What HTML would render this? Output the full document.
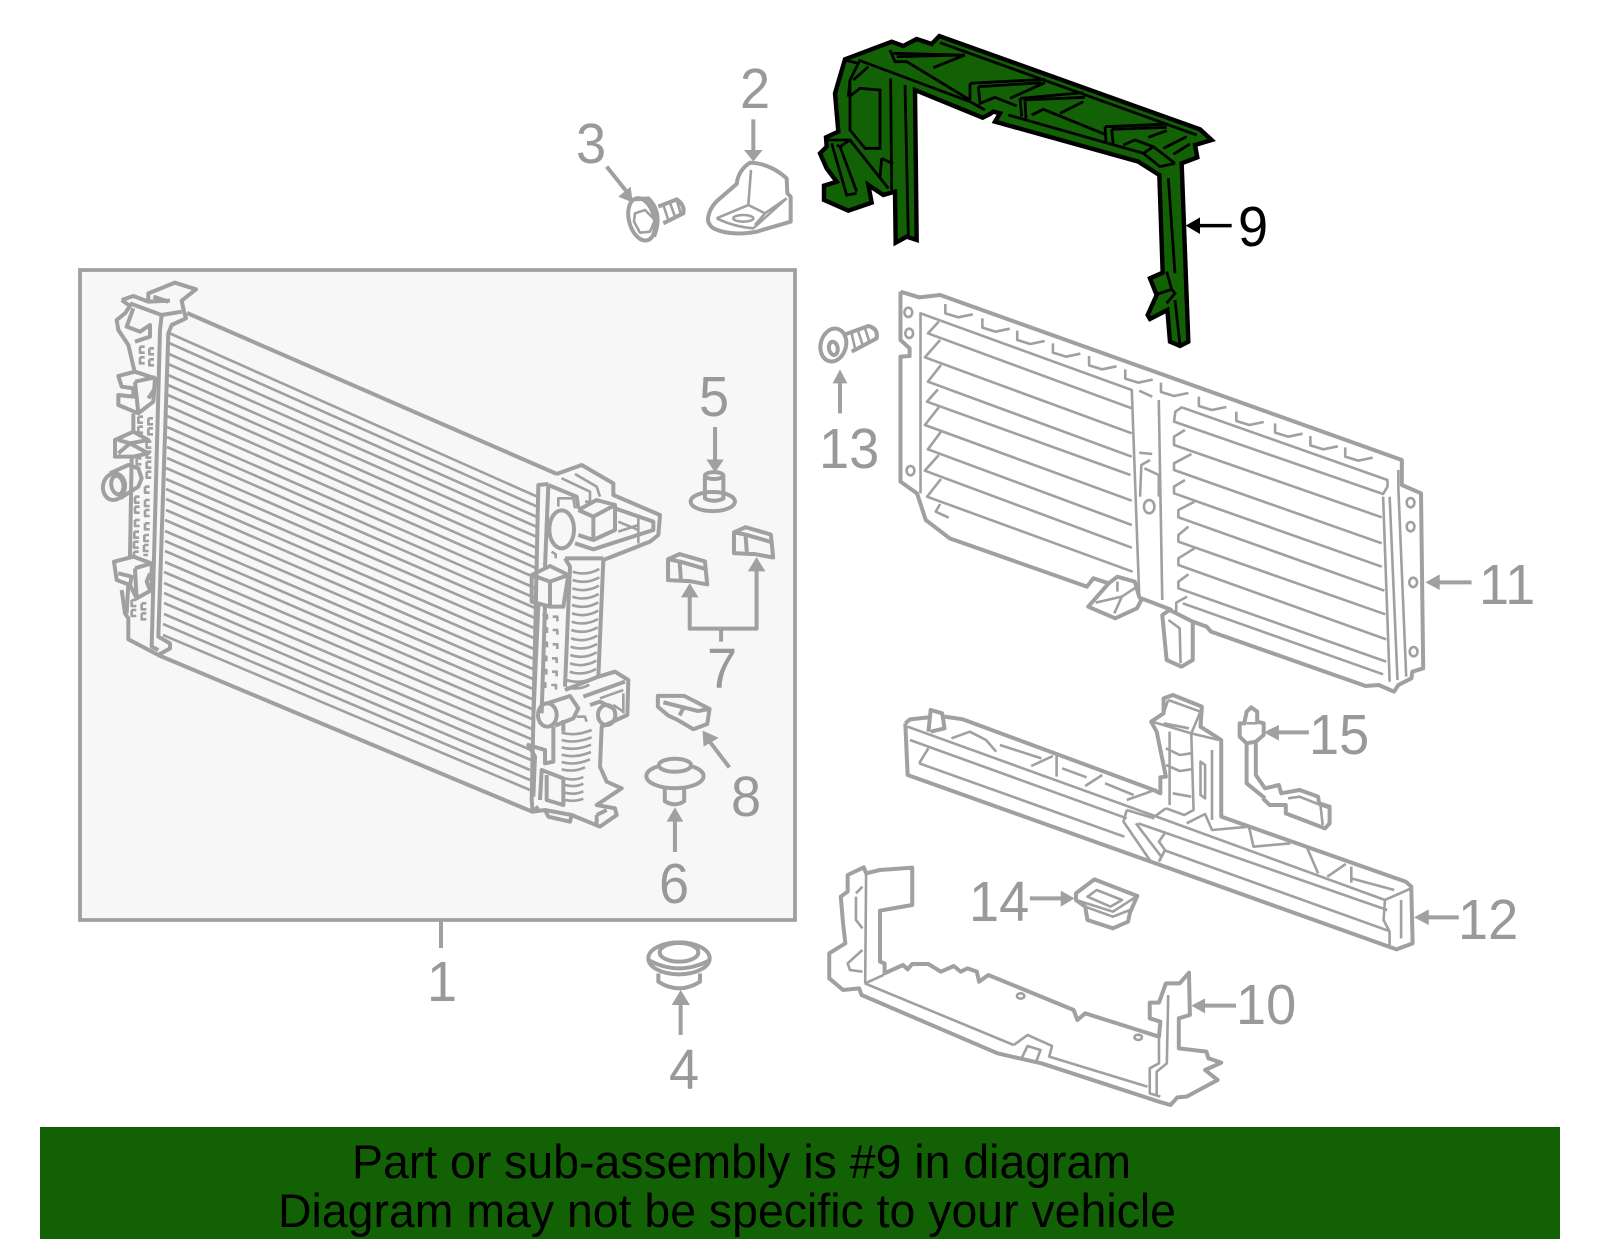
<!DOCTYPE html>
<html><head><meta charset="utf-8"><style>
html,body{margin:0;padding:0;background:#fff;width:1600px;height:1249px;overflow:hidden}
svg{display:block;position:absolute;left:0;top:0}
svg *{vector-effect:non-scaling-stroke}
.g{fill:none;stroke:#a0a0a0;stroke-width:2.6;stroke-linejoin:round}
.t{stroke-width:4}
.h{fill:#a0a0a0;stroke:none}
.n{font-family:"Liberation Sans",sans-serif;font-size:57px;fill:#999}
.k{fill:none;stroke:#000;stroke-width:2.8}
</style></head><body>
<svg width="1600" height="1249" viewBox="0 0 1600 1249" xmlns="http://www.w3.org/2000/svg">
<rect x="80" y="270" width="715" height="650" fill="#f7f7f7" stroke="#a0a0a0" stroke-width="3.8"/>
<path d="M441 920V948" class="g t"/>

<!-- radiator core -->
<g class="g">
<path d="M169 333L538 497M169 343L538 507M169 354L537 517M168 364L537 527M168 375L537 537M168 385L537 548M168 395L536 558M168 406L536 568M167 416L536 578M167 427L535 588M167 437L535 598M167 447L535 608M167 458L535 618M166 468L534 628M166 479L534 638M166 489L534 649M166 499L534 659M166 510L533 669M165 520L533 679M165 531L533 689M165 541L532 699M165 551L532 709M165 562L532 719M164 572L532 729M164 583L531 739M164 593L531 750M164 603L531 760M164 614L530 770M163 624L530 780M163 635L530 790"/>
<path class="t" d="M187 313L557 474M158 655L533 812"/>
</g>

<!-- radiator left tank -->
<g transform="translate(90,270) scale(.33333)">
<g class="g t">
<path d="M95 90L130 78L175 95L175 70L255 38L318 58L275 92L282 125L288 145L245 165L235 190L205 1100L240 1120V1135L205 1155L115 1108V1045L105 1030L95 960"/>
<path d="M215 135L210 180L185 1130L205 1140"/>
<path d="M95 90L120 108L105 130L80 150L85 180L115 225L135 310M130 115L110 170L150 185L180 165L180 200L135 215M175 95L240 92M120 100L215 135L275 125M190 80L235 95"/>
<path d="M85 318L135 305L195 325L190 395L145 430L85 405V375L130 380V355L95 350ZM135 335L195 322M135 335L145 430M175 385L195 355"/>
<path d="M130 430V485M75 510L130 485L175 510L120 520L175 550L130 560H75ZM85 510L120 520L85 550"/>
<path d="M60 610L115 585L145 595L155 625L145 650L90 685"/>
<ellipse cx="72" cy="650" rx="33" ry="40" transform="rotate(10 72 650)"/>
<ellipse cx="82" cy="645" rx="18" ry="28" transform="rotate(-10 82 645)"/>
<path d="M125 560L120 860M72 875L130 860L185 880V960L140 985L120 945L80 930ZM135 895L185 880M135 895L140 985M85 910L125 920L120 945M180 910L170 935L180 960M115 940L110 1030"/>
</g>
<path class="g" d="M150 230h14M150 230v18h14M178 235h14M178 235v18h14M150 262h14M150 262v18h14M178 268h14M178 268v18h14M145 440h14M145 440v18h14M175 445h14M175 445v18h14M145 470h14M145 470v18h14M175 475h14M175 475v18h14M170 515h14M170 515v18h14M170 545h14M170 545v18h14M140 565h14M140 565v18h14M170 575h14M170 575v18h14M170 605h14M170 605v18h14M165 650h14M165 650v18h14M135 680h14M135 680v18h14M165 690h14M165 690v18h14M135 710h14M135 710v18h14M165 720h14M165 720v18h14M135 750h14M135 750v18h14M165 760h14M165 760v18h14M133 785h14M133 785v18h14M163 795h14M163 795v18h14M132 815h14M132 815v18h14M162 825h14M162 825v18h14M132 845h14M132 845v14M160 855h14M125 990h14M125 990v18h14M155 1000h14M155 1000v18h14M125 1020h14M125 1020v18h14M155 1030h14M155 1030v18h14"/>
</g>

<!-- radiator right tank -->
<g transform="translate(510,460) scale(.33333)">
<g class="g t">
<path d="M140 42L215 15L310 70V105L450 165L445 225L420 245L280 300L265 650L315 635L355 660L352 765L275 800L270 920L290 965L335 985L260 1035L315 1045L320 1065L270 1100L185 1065L180 1085L115 1070L105 1050L68 1055"/>
<path d="M115 72L85 75L65 1020L68 1055L85 1040"/>
<path d="M115 75L105 320M115 75L200 110L205 145"/>
<ellipse cx="155" cy="208" rx="37" ry="57"/>
<path d="M205 150L250 170L315 135V210L250 240L205 225M250 170V240M205 150L260 120L315 135"/>
<path d="M195 250L250 268L430 210V185L315 145"/>
<path d="M165 295H280M165 295L180 320L165 680"/>
<path d="M65 345L120 318L175 345L160 440H120L65 425ZM120 365L175 345M65 345L120 365V440"/>
<path d="M85 435L70 770M105 440L95 760"/>
<path d="M165 690L265 650M220 710L345 665"/>
<ellipse cx="112" cy="765" rx="28" ry="35"/>
<path d="M112 730L180 708L205 745L190 775L135 797"/>
<ellipse cx="290" cy="765" rx="26" ry="30"/>
<path d="M240 735L270 725L310 745M130 800V905L105 910V870L55 855L75 890L70 1010"/>
<path d="M90 1020L95 930L160 955V1035L110 1020V945"/>
<path d="M105 1050L185 1065M260 1065V1095M260 1065L290 1050M160 780V815"/>
</g>
<g class="g">
<path d="M155 55L240 95V125H225M195 42L260 80L270 110M145 140V115H190L195 145M325 185L385 210M325 215L385 195M385 175V250M125 275L137 283V295M270 715L340 690M340 700V760M310 735L340 755M200 770H225L230 785"/>
<path d="M97 465h14v14M128 470h14v14M97 505h14v14M128 510h14v14M97 548h14v14M128 553h14v14M95 590h14v14M126 595h14v14M95 630h14v14M126 635h14v14M92 670h14v14M124 675h14v14"/>
<path d="M188 335q40 14 80 -8M188 360q40 14 80 -8M187 385q40 14 80 -8M187 410q40 14 79 -8M186 435q40 14 79 -8M186 460q40 14 79 -8M185 485q40 14 79 -8M184 510q40 14 79 -8M183 535q40 14 79 -8M182 560q40 14 79 -8M181 585q40 14 79 -8M180 610q40 14 79 -8M179 635q40 14 79 -8M170 660q40 14 85 -8M168 682q40 10 70 -8"/>
<path d="M155 818q40 12 90 -8M155 840q40 12 90 -8M155 862q40 12 88 -8M155 884q40 12 88 -8M155 906q40 12 85 -8M155 928q35 10 70 -6M165 955q30 8 55 -4M165 975q30 8 55 -4M165 998q30 8 55 -4M165 1020q30 6 55 -4"/>
</g>
</g>

<!-- small parts in box -->
<g transform="translate(80,260) scale(.4612,.4337)">
<g class="g t">
<ellipse cx="1372" cy="557" rx="48" ry="22"/>
<path d="M1355 500V550Q1375 560 1395 550V500"/>
<ellipse cx="1375" cy="497" rx="20" ry="8"/>
<path d="M1377 385V470" />
<path d="M1275 690L1300 678L1355 695L1360 748L1320 740L1310 740L1275 738ZM1300 695L1355 712M1300 695L1303 738M1275 690L1300 695"/>
<path transform="translate(143,-62)" d="M1275 690L1300 678L1355 695L1360 748L1320 740L1310 740L1275 738ZM1300 695L1355 712M1300 695L1303 738M1275 690L1300 695"/>
<path d="M1322 770V850H1467V710M1390 850V880"/>
<path d="M1253 1005L1310 1005L1365 1035L1360 1070L1330 1082L1295 1060L1275 1050L1253 1030ZM1265 1020L1340 1040L1365 1035M1300 1050L1310 1030"/>
<path d="M1408 1170L1365 1110"/>
<ellipse cx="1290" cy="1190" rx="62" ry="28"/>
<ellipse cx="1290" cy="1165" rx="35" ry="15" fill="#f7f7f7"/>
<path d="M1268 1215V1248Q1290 1262 1310 1248V1215"/>
<path d="M1290 1365V1290"/>
</g>
<path class="h" d="M1377 490L1358 460H1396ZM1322 745L1303 778H1341ZM1467 685L1448 718H1486ZM1350 1085L1352 1122L1385 1102ZM1290 1262L1272 1295H1308Z"/>
</g>

<!-- part 9 green -->
<g transform="translate(800,20) scale(.33333)">
<path fill="#126205" stroke="#000" stroke-width="4.4" stroke-linejoin="miter" d="M135 118L275 65L310 78L350 57L395 72L418 48L1200 328L1235 360L1185 375L1192 412L1145 430L1165 965L1140 978L1110 965L1102 870L1050 897L1043 885L1070 825L1050 775L1088 758L1078 465L1015 425L585 305L600 280L580 275L570 282L548 293L345 210L350 660L320 650L287 668L285 515L250 525L205 495L215 548L145 572L72 540V497L110 485L80 445L60 400L80 380L78 352L115 335L105 220Z"/>
<g class="k">
<path d="M175 120L510 245L555 270M272 175L275 510M315 195L325 650M270 90L285 125L320 125L510 240M280 100L480 105M290 110L495 105M400 143L495 105"/>
<path d="M510 190L735 178M535 200L725 188M510 190V240M535 200L540 250L585 232L650 258M630 235L735 188M660 235L850 218M670 240L855 232M660 235L665 290M675 245L678 295M695 285L730 268L920 345M780 280L850 245M915 320L1105 312M935 328L1100 322M915 320L918 365M935 328L940 375M970 375L1005 360L1060 380M1045 352L1100 332M1090 385L1160 350M1120 403L1170 372M420 68L1190 345"/>
<path d="M625 285L1030 400L1080 440L1125 430M1030 400L1060 380L1125 430M1105 475L1125 760M1125 840L1140 975M1065 825L1115 808L1100 755M1115 808L1125 820L1100 850"/>
<path d="M150 190V330L195 385H240V210L180 205L148 230M135 120L175 130L150 180L145 230M205 140L160 180"/>
<path d="M85 360H150L265 505M95 370L140 525L170 520M120 380L150 360M110 375L120 380L170 515M245 415L240 470M245 415L280 432"/>
</g>
<path d="M1295 617H1190" stroke="#000" stroke-width="3.5" fill="none"/>
<path d="M1157 617L1200 592V642Z" fill="#000"/>
</g>

<!-- part 11 grille -->
<g transform="translate(880,280) scale(.4356,.33333)">
<g class="g t">
<path d="M47 35L90 52L138 45L1198 540V615L1242 640L1247 1165L1222 1175L1220 1195L1190 1215L1180 1235L1145 1215L1115 1218L760 1055L750 1040L718 1025"/>
<path d="M47 35V180L68 205V228L47 230V605L85 640L105 720L160 775L475 920L490 895L525 910L545 890L585 905L595 950L600 960L590 985L540 1015L478 980L525 910M600 955L670 990"/>
<path d="M648 1005L665 990L718 1025V1140L692 1160L658 1140Z"/>
<path d="M1358 907H1280"/>
</g>
<g class="g">
<path d="M93 640V100L578 330L595 945M640 360L648 960M595 332L625 350M595 518L625 522M620 540L600 555L597 650M607 565L640 585V650"/>
<path d="M135 125L110 160L578 385M138 180L103 232L578 460M140 255L110 305L578 530M133 328L108 365L575 585M135 382L103 435L578 662M140 455L110 508L578 735M135 525L103 572L578 803M140 597L108 650L580 875M138 672L128 695L158 713"/>
<path d="M695 380L678 395L675 425L1155 642L1165 620V600L695 383M700 450L675 470V495L1152 712M715 522L675 550V570L1152 790M700 600L675 620V640L1152 860M722 665L685 690V712L1158 932M708 740L685 765V785L1160 1003M722 805L685 835V855L1162 1078M708 883L685 905V925L1162 1145M705 950L680 968V995M695 970L1155 1183"/>
<path d="M150 72v28l30 12l33 -9M235 115v28l30 12l33 -9M315 152v28l30 12l33 -9M397 190v28l30 12l33 -9M480 228v28l30 12l33 -9M563 268v28l30 12l33 -9M645 308v28l30 12l33 -9M732 350v28l30 12l33 -9M818 395v28l30 12l33 -9M907 430v28l30 12l33 -9M988 468v28l30 12l33 -9M1068 502v28l30 12l33 -9"/>
<path d="M1190 570V625L1208 1190M1170 650L1188 1200M1155 650L1170 1205M662 1020L688 1045L690 1150M545 905V935M495 968L555 950L538 1000M590 920L555 950"/>
<ellipse cx="618" cy="680" rx="12" ry="20"/>
<ellipse cx="65" cy="97" rx="9" ry="14"/><ellipse cx="67" cy="160" rx="9" ry="14"/><ellipse cx="70" cy="572" rx="9" ry="14"/><ellipse cx="1218" cy="668" rx="9" ry="14"/><ellipse cx="1218" cy="740" rx="9" ry="14"/><ellipse cx="1224" cy="907" rx="9" ry="14"/><ellipse cx="1225" cy="1115" rx="9" ry="14"/>
</g>
<path class="h" d="M1252 907L1285 883V930Z"/>
</g>

<!-- parts 10 12 14 15 -->
<g transform="translate(820,690) scale(.4612,.33333)">
<g class="g t">
<path d="M185 100L190 255L1250 778L1285 760L1282 590L1270 575L870 380V150L825 110L828 50L765 15L745 25V70L718 95L730 125L750 260L738 262V310L720 298L310 88L270 80M185 100L195 88L235 82"/>
<path d="M235 125L240 60L265 70L270 115L240 125"/>
<path d="M1385 682H1315M1060 127H990M455 625H525M902 947H830"/>
<path d="M920 100L925 65L935 52L948 65V95L962 100V135L945 155L925 160L910 140V100ZM925 160V280L965 325M945 155V255L965 295L995 285L1000 310L1040 300L1080 320L1082 340L1105 350V400L1095 415L1010 370V345H975L960 325"/>
<path d="M555 610L595 568L688 618L672 668L668 695L635 715L580 690L575 650L555 630Z"/>
<path d="M60 555L95 532L100 550L130 540L200 533V645L130 662V815L140 820V850L180 825L190 838L200 822L235 822L262 845L290 828L305 845L320 835L340 845L345 875L365 855L550 960L558 990L575 970L735 1040L738 995L715 985V938H735L750 880H780L800 848L802 975L778 985V1075L838 1085L842 1105L870 1118L835 1140L862 1170L795 1220L775 1222L760 1245L735 1235L480 1120L385 1090L90 915L85 895L50 900L20 865V790L55 760L50 700L45 620L60 605Z"/>
</g>
<g class="g">
<path d="M190 110L720 375L1225 630L1282 595M195 150L665 385M215 220L660 440M235 175L215 220M690 400L1230 660M745 480L1232 722M1225 630L1222 690L1235 725V765M1260 630V745"/>
<path d="M665 360L658 395L715 510M685 400L740 500L735 515M665 360L725 385M750 425L735 455L748 480L735 515"/>
<path d="M285 145L325 125L360 150L382 185M390 165L480 205M458 228L505 198M513 198V260M525 235L578 262M575 288L612 255M618 280L680 315M665 330L730 298"/>
<path d="M758 345V125M755 30L825 65L805 130M755 30L745 70M720 95L805 130L865 150M805 130L810 360L790 375L750 355M725 380L750 355M850 180V390M825 215V315L835 325V225ZM750 175L780 195L805 190M750 225L780 243L805 238M765 310L805 320M745 100L800 115"/>
<path d="M795 400L835 372L850 420L930 410L940 470L1020 460M1055 470L1080 550M1100 560L1140 522M1152 530V578M1152 565L1245 600"/>
<path d="M1015 325L1040 320L1085 345L1105 355M1085 345L1090 405M925 100H948"/>
<path d="M580 620L600 600L655 630L630 650ZM555 630L635 665L688 618M575 650L635 680L672 660"/>
<path d="M100 545L98 880M98 880L138 855M755 915L752 1120L730 1145V1215M735 1040V1120L715 1135V1210L738 1220M78 620V690L92 715M92 590L78 610M92 780L60 820L65 840L92 845"/>
<path d="M420 1065L450 1035L503 1068L497 1100L710 1190M97 880L420 1065M437 1105L450 1068L478 1080L468 1118"/>
<ellipse cx="435" cy="918" rx="8" ry="8"/><ellipse cx="690" cy="1042" rx="8" ry="8"/>
</g>
<path class="h" d="M1288 682L1320 658V705ZM962 127L995 105V152ZM552 625L522 602V650ZM805 947L835 925V970Z"/>
</g>

<!-- parts 2, 3 -->
<g transform="translate(560,50) scale(.33333)">
<g class="g t">
<path d="M140 350L200 425M580 208V305"/>
<path d="M445 500Q450 470 480 445L530 402Q535 360 570 338Q630 340 680 385L682 430L692 440V515L590 545Q510 560 460 535Q440 520 445 500Z"/>
<ellipse cx="245" cy="508" rx="38" ry="65" transform="rotate(-15 245 508)"/>
<path d="M225 448L265 445Q310 490 282 560M295 470L350 448Q375 465 370 490L310 520"/>
</g>
<g class="g">
<path d="M573 360L565 465L615 490L680 445M470 505L565 465M470 505Q520 530 580 535L680 445M585 525L615 490"/>
<ellipse cx="550" cy="505" rx="30" ry="10"/>
<path d="M225 490L255 480L285 510L270 545L240 548L222 515ZM310 465L325 510M330 458L345 500M350 450L362 490"/>
</g>
<path class="h" d="M218 458L175 440L212 410ZM580 335L552 300H608Z"/>
</g>

<!-- part 4 -->
<g transform="translate(630,930) scale(.33333)">
<g class="g t">
<ellipse cx="147" cy="85" rx="92" ry="48"/>
<ellipse cx="147" cy="67" rx="58" ry="28"/>
<path d="M55 90Q147 140 240 90M85 130V155Q147 195 210 155V130M152 315V220"/>
</g>
<path class="h" d="M152 180L125 225H180Z"/>
</g>

<!-- part 13 -->
<g transform="translate(810,310) scale(.33333)">
<g class="g t">
<ellipse cx="70" cy="105" rx="38" ry="50" transform="rotate(15 70 105)"/>
<ellipse cx="70" cy="115" rx="13" ry="20" transform="rotate(-10 70 115)"/>
<path d="M100 75L175 48Q205 55 200 85L125 125M90 210V310"/>
</g>
<path class="g" d="M125 70L135 115M145 65L158 105M165 55L178 95"/>
<path class="h" d="M90 178L68 220H112Z"/>
</g>

<g class="n">
<text transform="translate(1238,246) scale(.95,1)" style="fill:#000">9</text>
<text transform="translate(1479,604) scale(.95,1)">11</text>
<text transform="translate(442,1001) scale(.95,1)" text-anchor="middle">1</text>
<text transform="translate(755,108) scale(.95,1)" text-anchor="middle">2</text>
<text transform="translate(576,163) scale(.95,1)">3</text>
<text transform="translate(684,1089) scale(.95,1)" text-anchor="middle">4</text>
<text transform="translate(714,416) scale(.95,1)" text-anchor="middle">5</text>
<text transform="translate(674,903) scale(.95,1)" text-anchor="middle">6</text>
<text transform="translate(722,688) scale(.95,1)" text-anchor="middle">7</text>
<text transform="translate(746,816) scale(.95,1)" text-anchor="middle">8</text>
<text transform="translate(1236,1024) scale(.95,1)">10</text>
<text transform="translate(1458,939) scale(.95,1)">12</text>
<text transform="translate(819,468) scale(.95,1)">13</text>
<text transform="translate(969,921) scale(.95,1)">14</text>
<text transform="translate(1309,754) scale(.95,1)">15</text>
</g>

<rect x="40" y="1127" width="1520" height="112" fill="#126205"/>
<text x="352" y="1178" font-family="Liberation Sans, sans-serif" font-size="47" fill="#000" textLength="779" lengthAdjust="spacingAndGlyphs">Part or sub-assembly is #9 in diagram</text>
<text x="278" y="1227" font-family="Liberation Sans, sans-serif" font-size="47" fill="#000" textLength="898" lengthAdjust="spacingAndGlyphs">Diagram may not be specific to your vehicle</text>
</svg>
</body></html>
